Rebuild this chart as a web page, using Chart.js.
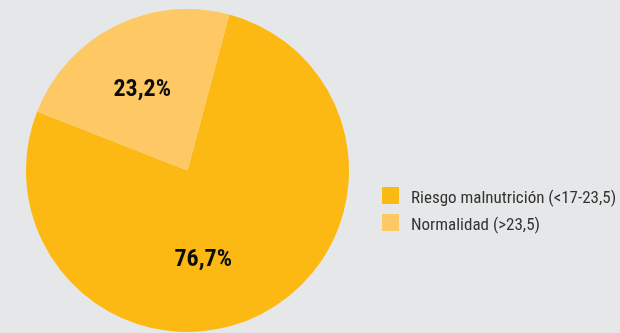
<!DOCTYPE html>
<html>
<head>
<meta charset="utf-8">
<script src="https://cdn.jsdelivr.net/npm/chart.js@4/dist/chart.umd.min.js"></script>
<style>
  html, body { margin: 0; padding: 0; background: #E6E7E8; }
  #wrap { width: 620px; height: 333px; position: relative; }
</style>
</head>
<body>
<div id="wrap"><canvas id="c" width="620" height="333"></canvas></div>
<script>
const categories = ["Riesgo malnutrición (<17-23,5)", "Normalidad (>23,5)"];
const values = [76.7, 23.2];
const valueLabels = ["76,7%", "23,2%"];
const colors = ["#FDB913", "#FEC964"];

const labelOffsets = [[0.097, 0.556], [-0.28, -0.5]];

const drawPlugin = {
  id: 'drawExtras',
  afterDatasetsDraw(chart) {
    const ctx = chart.ctx;
    const meta = chart.getDatasetMeta(0);
    ctx.save();
    ctx.textAlign = 'center';
    ctx.textBaseline = 'middle';
    ctx.fillStyle = '#0d0d0d';
    ctx.font = 'bold 24px "Roboto Condensed", "Liberation Sans Narrow", "Liberation Sans", sans-serif';
    meta.data.forEach((arc, i) => {
      const r = arc.outerRadius;
      const x = arc.x + labelOffsets[i][0] * r;
      const y = arc.y + labelOffsets[i][1] * r;
      ctx.fillText(valueLabels[i], x, y);
    });
    // legend
    ctx.textAlign = 'left';
    ctx.textBaseline = 'alphabetic';
    ctx.font = '17px "Roboto Condensed", "Liberation Sans Narrow", "Liberation Sans", sans-serif';
    categories.forEach((c, i) => {
      const y0 = 187 + i * 27;
      ctx.fillStyle = colors[i];
      ctx.fillRect(382, y0, 17, 17);
      ctx.fillStyle = '#333';
      ctx.fillText(c, 411, y0 + 16);
    });
    ctx.restore();
  }
};

new Chart(document.getElementById('c'), {
  type: 'pie',
  data: {
    labels: categories,
    datasets: [{ data: values, backgroundColor: colors, borderWidth: 0 }]
  },
  options: {
    responsive: false,
    animation: false,
    rotation: 15,
    layout: { padding: { left: 26, right: 271, top: 9, bottom: 1 } },
    plugins: { legend: { display: false }, tooltip: { enabled: false } }
  },
  plugins: [drawPlugin]
});
</script>
</body>
</html>
